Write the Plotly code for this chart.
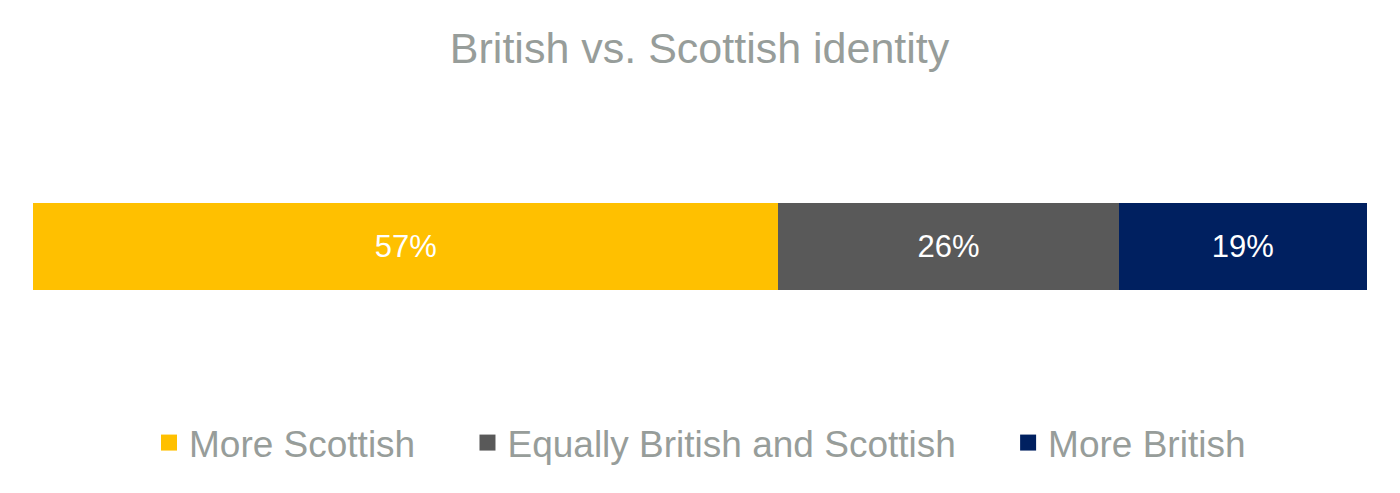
import plotly.graph_objects as go

categories = ["More Scottish", "Equally British and Scottish", "More British"]
values = [57, 26, 19]
labels = ["57%", "26%", "19%"]
colors = ["#FFC000", "#595959", "#002060"]

FONT = "Liberation Sans, Arial"
TXT = "#979D9A"

fig = go.Figure()
for name, v, lab, c in zip(categories, values, labels, colors):
    fig.add_trace(go.Bar(
        y=[0], x=[v], name=name, orientation="h",
        marker=dict(color=c, line=dict(width=0)),
        text=[lab], textposition="inside", insidetextanchor="middle",
        textfont=dict(color="white", size=31, family=FONT),
        width=0.1765, showlegend=False, hoverinfo="x+name",
    ))

# legend entries (square markers)
pad = "\u2003\u00a0"
for i, (name, c) in enumerate(zip(categories, colors)):
    fig.add_trace(go.Scatter(
        x=[None], y=[None], mode="markers", name=name + (pad if i < len(categories) - 1 else ""),
        marker=dict(symbol="square", size=20, color=c), showlegend=True,
    ))

fig.update_layout(
    barmode="stack",
    width=1400, height=493,
    paper_bgcolor="white", plot_bgcolor="white",
    margin=dict(l=25, r=41, t=0, b=0, autoexpand=False),
    title=dict(text="British vs. Scottish identity", x=0.494, xanchor="center",
               xref="container", yref="container", y=0.919, yanchor="middle",
               font=dict(size=43, color=TXT, family=FONT)),
    xaxis=dict(range=[0, sum(values)], visible=False, fixedrange=True),
    yaxis=dict(range=[-0.5162, 0.4838], visible=False, fixedrange=True),
    showlegend=True,
    legend=dict(orientation="h", x=0.5, xanchor="center", y=0.1176, yanchor="middle",
                font=dict(size=37, color=TXT, family=FONT),
                itemwidth=30, traceorder="normal", bgcolor="rgba(0,0,0,0)"),
)
fig.write_html("out.html")
